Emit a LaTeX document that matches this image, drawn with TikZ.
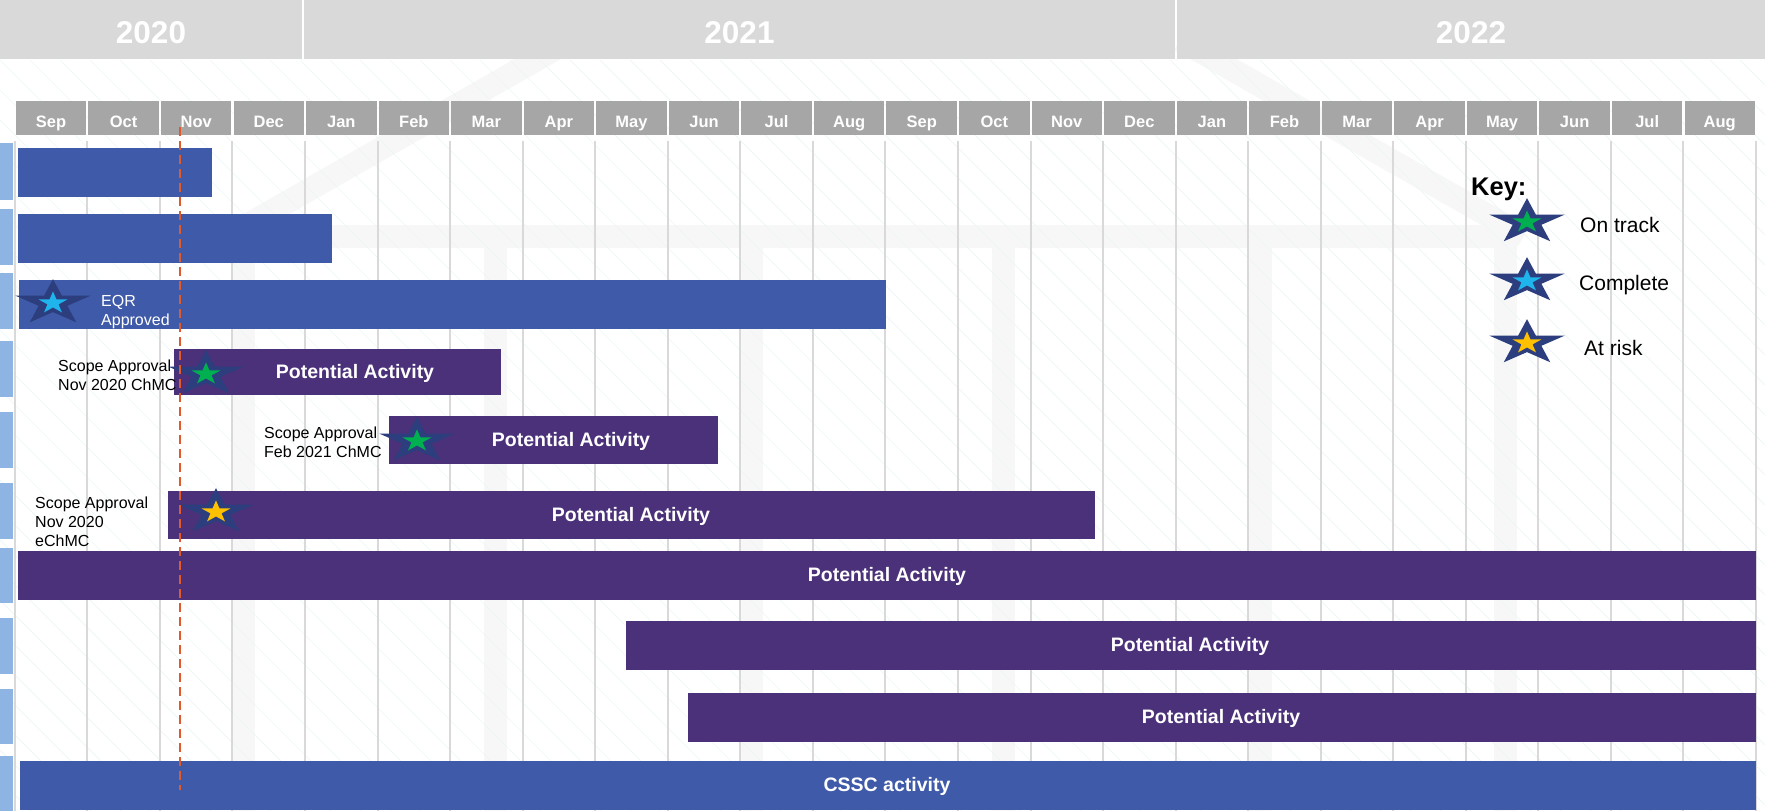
\documentclass[tikz,border=0pt]{standalone}
\usepackage{fontspec}
\setmainfont{Liberation Sans}
\usepackage{tikz}

\definecolor{yeargray}{HTML}{D9D9D9}
\definecolor{monthgray}{HTML}{A6A6A6}
\definecolor{gridgray}{HTML}{D9D9D9}
\definecolor{hatchcyan}{HTML}{EBF6F8}
\definecolor{templegray}{HTML}{F7F7F7}
\definecolor{stripblue}{HTML}{8EB4E3}
\definecolor{barblue}{HTML}{3F5AA8}
\definecolor{barpurple}{HTML}{4B3179}
\definecolor{starnavy}{HTML}{2C3E7D}
\definecolor{stargreen}{HTML}{00B050}
\definecolor{starcyan}{HTML}{1FB4EC}
\definecolor{staryellow}{HTML}{FFC000}
\definecolor{todayred}{HTML}{E05A2B}

\begin{document}
\begin{tikzpicture}[x=1pt, y=-1pt,
  yearbox/.style={fill=yeargray, minimum height=59pt, inner sep=0pt, text=white,
    text height=27.6pt, text depth=0pt, font=\bfseries\fontsize{31.5}{34}\selectfont},
  monthbox/.style={fill=monthgray, minimum width=70.5pt, minimum height=34pt, inner sep=0pt,
    text=white, text height=18pt, text depth=0pt, font=\bfseries\fontsize{16.5}{18}\selectfont},
  bluebar/.style={fill=barblue, inner sep=0pt, anchor=north west},
  purplebar/.style={fill=barpurple, inner sep=0pt, anchor=north west},
  bartext/.style={text=white, inner sep=0pt, font=\bfseries\fontsize{19.5}{22}\selectfont},
  note/.style={anchor=west, align=left, inner sep=0pt, font=\fontsize{16}{19}\selectfont},
  keytext/.style={anchor=west, inner sep=0pt, font=\fontsize{21}{24}\selectfont},
  gridline/.style={draw=gridgray, line width=2pt},
  hatch/.style={draw=hatchcyan, line width=0.7pt},
  temple/.style={draw=templegray, line width=23pt},
  todayline/.style={draw=todayred, line width=2pt, dash pattern=on 9pt off 5pt},
  pics/keystar/.style={code={
      \fill[starnavy, xscale=1.66] (-90:23.8)
        \foreach \k in {0,...,4} {-- ({-90+72*\k}:23.8) -- ({-54+72*\k}:9.1)} -- cycle;
      \fill[#1, xscale=1.31] (-90:11.6)
        \foreach \k in {0,...,4} {-- ({-90+72*\k}:11.6) -- ({-54+72*\k}:4.45)} -- cycle;
  }}
]
  % page
  \useasboundingbox (0,0) rectangle (1765,811);
  \fill[white] (0,0) rectangle (1765,811);

  % faint building in the background
  \draw[temple] (571,40) -- (228,236);
  \draw[temple] (1180,40) -- (1524,236);
  \draw[temple] (232,236.5) -- (1506,236.5);
  \foreach \x in {243, 495, 751, 1003, 1260, 1505} {
    \draw[temple] (\x,236) -- (\x,811);
  }

  % diagonal hatching
  \begin{scope}
    \clip (0,60) rectangle (1765,811);
    \foreach \k in {-26,...,59} {
      \draw[hatch] ({30*\k},60) -- ++(760,760);
    }
  \end{scope}

  % month columns
  \foreach \i in {0,...,24} {
    \draw[gridline] ({14.8+72.55*\i},141) -- ({14.8+72.55*\i},811);
  }

  % years
  \node[yearbox, minimum width=302pt] (y2020) at (151,29.5) {2020};
  \node[yearbox, minimum width=871pt] (y2021) at (739.5,29.5) {2021};
  \node[yearbox, minimum width=588pt] (y2022) at (1471,29.5) {2022};

  % months
  \foreach \m [count=\i from 0] in {Sep,Oct,Nov,Dec,Jan,Feb,Mar,Apr,May,Jun,Jul,Aug,
                                     Sep,Oct,Nov,Dec,Jan,Feb,Mar,Apr,May,Jun,Jul,Aug} {
    \node[monthbox] (mon\i) at ({14.8+72.55*\i+36.3},118) {\m};
  }

  % row markers on the left edge
  \foreach \t/\b in {143/200, 209/265, 273/329, 341/397, 412/468,
                     483/539, 548/603, 618/674, 689/744, 756/811} {
    \fill[stripblue] (0,\t) rectangle (13,\b);
  }

  % bars
  \node[bluebar, minimum width=194pt, minimum height=49pt] (task1) at (18,148) {};
  \node[bluebar, minimum width=314pt, minimum height=49pt] (task2) at (18,214) {};
  \node[bluebar, minimum width=867pt, minimum height=49pt] (task3) at (19,280) {};
  \node[purplebar, minimum width=327pt, minimum height=46pt] (act4) at (174,349) {};
  \node[purplebar, minimum width=329pt, minimum height=48pt] (act5) at (389,416) {};
  \node[purplebar, minimum width=927pt, minimum height=48pt] (act6) at (168,491) {};
  \node[purplebar, minimum width=1738pt, minimum height=49pt] (act7) at (18,551) {};
  \node[purplebar, minimum width=1130pt, minimum height=49pt] (act8) at (626,621) {};
  \node[purplebar, minimum width=1068pt, minimum height=49pt] (act9) at (688,693) {};
  \node[bluebar, minimum width=1736pt, minimum height=49pt] (cssc) at (20,761) {};

  % bar texts
  \node[bartext] (act4lbl) at (355,373) {Potential Activity};
  \node[bartext] (act5lbl) at (571,441) {Potential Activity};
  \node[bartext] (act6lbl) at (631,516) {Potential Activity};
  \node[bartext] (act7lbl) at (887,576) {Potential Activity};
  \node[bartext] (act8lbl) at (1190,646) {Potential Activity};
  \node[bartext] (act9lbl) at (1221,718) {Potential Activity};
  \node[bartext] (cssclbl) at (887,786) {CSSC activity};

  % milestones
  \node[note, text=white] (eqr) at (101,312) {EQR\\Approved};
  \node[note] (scope1) at (58,375.5) {Scope Approval\\Nov 2020 ChMC};
  \node[note] (scope2) at (264,442.5) {Scope Approval\\Feb 2021 ChMC};
  \node[note] (scope3) at (35,522) {Scope Approval\\Nov 2020\\eChMC};
  \pic at (53,303) {keystar=starcyan};
  \pic at (206,374) {keystar=stargreen};
  \pic at (417,441) {keystar=stargreen};
  \pic at (216,512) {keystar=staryellow};

  % key
  \node[anchor=west, inner sep=0pt, font=\bfseries\fontsize{25.5}{28}\selectfont] (key) at (1471,189) {Key:};
  \pic at (1527,222) {keystar=stargreen};
  \pic at (1527,281) {keystar=starcyan};
  \pic at (1527,343) {keystar=staryellow};
  \node[keytext] (ontrack) at (1580,225) {On track};
  \node[keytext] (complete) at (1579,285) {Complete};
  \node[keytext] (atrisk) at (1584,348) {At risk};

  % today
  \coordinate (nowtop) at (180,127);
  \coordinate (nowbot) at (180,790);
  \draw[todayline] (nowtop) -- (nowbot);
\end{tikzpicture}
\end{document}
